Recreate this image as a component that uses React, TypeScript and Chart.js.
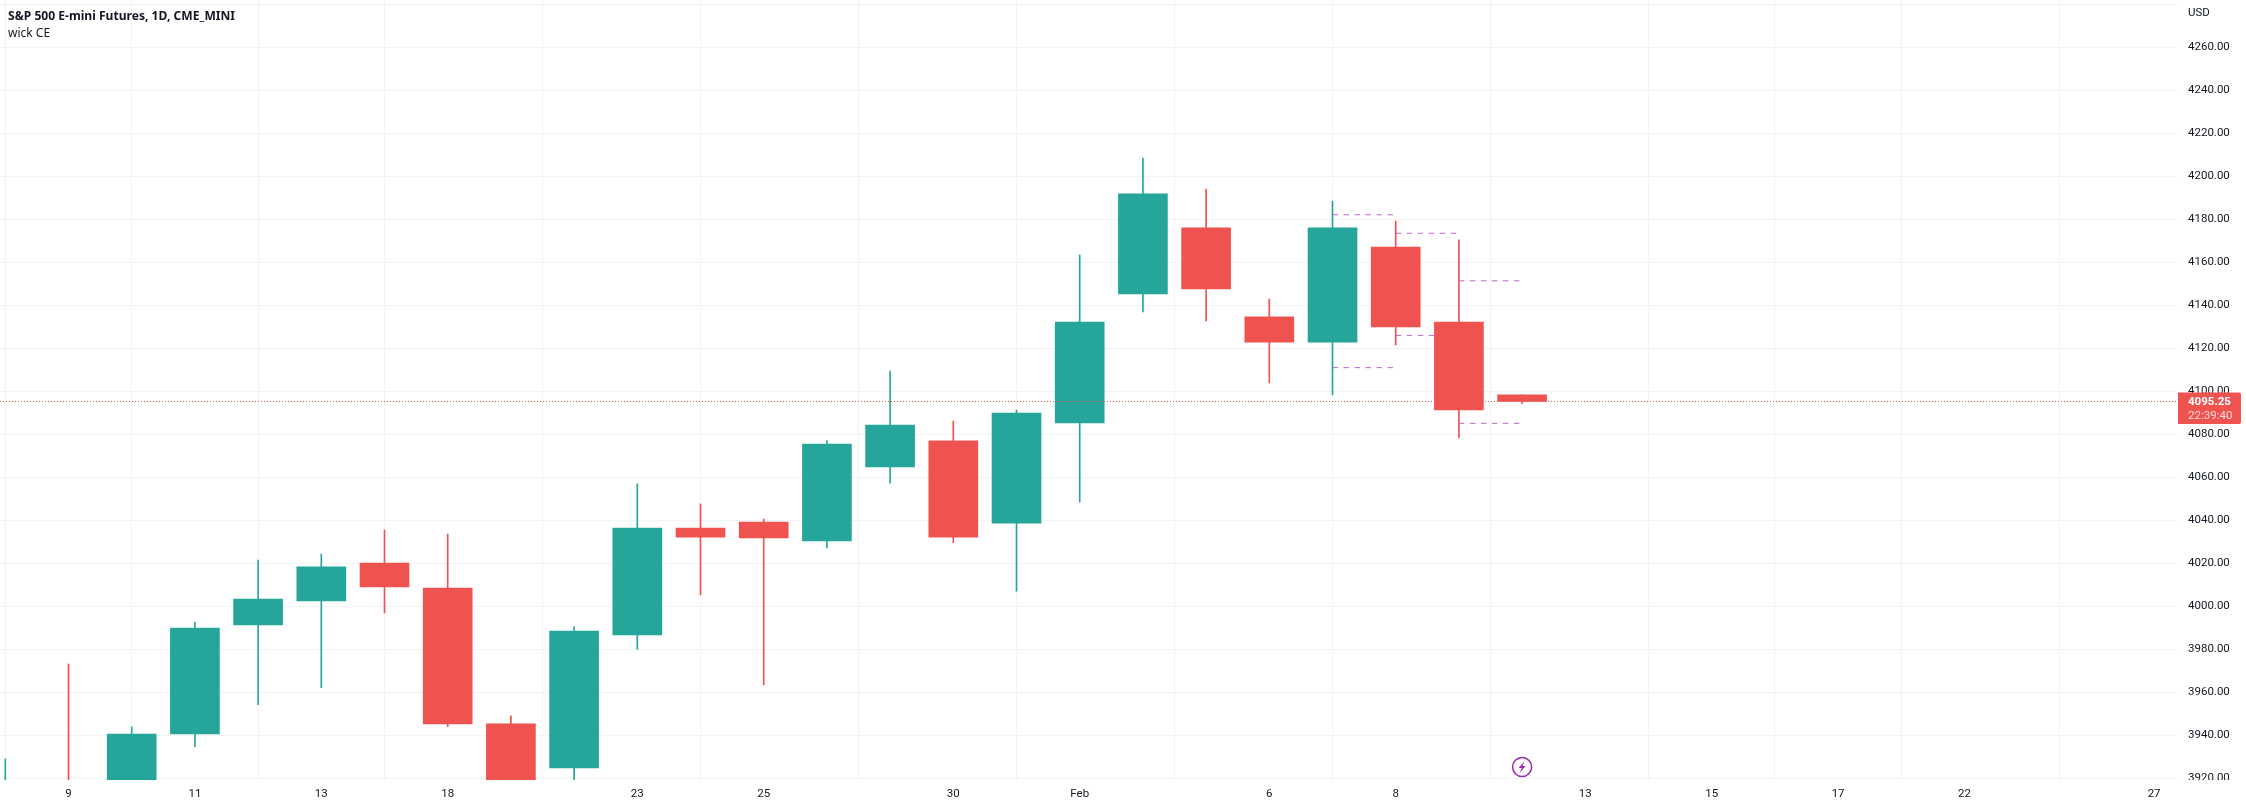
import React, { useEffect, useRef } from "react";
import { Chart, registerables } from "chart.js";

Chart.register(...registerables);

const sessions = [-1, 0, 1, 2, 3, 4, 5, 6, 7, 8, 9, 10, 11, 12, 13, 14, 15, 16, 17, 18, 19, 20, 21, 22, 23];
const opens = [3900, 3915, 3905, 3940.6, 3991.3, 4002.5, 4020.1, 4008.5, 3945.3, 3924.8, 3986.7, 4036.4, 4039.2, 4030.4, 4064.8, 4076.9, 4038.7, 4085.3, 4145.3, 4176, 4134.6, 4122.9, 4167.1, 4132.2, 4098.3];
const closes = [3915, 3900, 3940.6, 3989.9, 4003.4, 4018.3, 4009, 3945.3, 3915, 3988.5, 4036.4, 4032.2, 4031.8, 4075.5, 4084.3, 4032.2, 4089.9, 4132.2, 4191.8, 4147.6, 4122.9, 4176, 4129.9, 4091.3, 4095.25];
const highs = [3929, 3973.2, 3943.9, 3992.7, 4021.5, 4024.3, 4035.5, 4033.6, 3949, 3990.4, 4056.9, 4047.6, 4040.6, 4076.9, 4109.4, 4086.2, 4091.3, 4163.4, 4208.5, 4194.1, 4142.9, 4188.5, 4179.2, 4170.4, 4098.3];
const lows = [3895, 3895, 3900, 3934.7, 3954.2, 3962.1, 3996.9, 3944, 3905, 3918, 3980, 4005.3, 3963.4, 4027.1, 4057.3, 4029.5, 4007, 4048.5, 4136.9, 4132.7, 4103.9, 4098.3, 4121.5, 4078.3, 4094.2];

const ceStarts = [20, 20, 21, 21, 22, 22];
const ceValues = [4182.1, 4111, 4173.5, 4126, 4151.4, 4085.1];

const lastPrice = 4095.25;
const countdown = "22:39:40";

const xTickPositions = [0, 2, 4, 6, 9, 11, 14, 16, 19, 21, 24, 26, 28, 30, 33];
const xTickLabels = ["9", "11", "13", "18", "23", "25", "30", "Feb", "6", "8", "13", "15", "17", "22", "27"];
const yTickValues = [3920, 3940, 3960, 3980, 4000, 4020, 4040, 4060, 4080, 4100, 4120, 4140, 4160, 4180, 4200, 4220, 4240, 4260, 4280];

const xMin = -1.0839;
const xMax = 33.378;
const yMin = 3919.2;
const yMax = 4282;

const GREEN = "#26a69a";
const RED = "#ef5350";
const GRID = "#f2f3f5";
const INK = "#131722";
const AXIS_FONT = { family: "Roboto", size: 11.5 };

function candleSets(up: boolean) {
  const idx = sessions.map((_, i) => i).filter((i) => (closes[i] >= opens[i]) === up);
  const color = up ? GREEN : RED;
  return [
    {
      type: "bar",
      data: idx.map((i) => ({ x: sessions[i], y: [lows[i], highs[i]] })),
      backgroundColor: color,
      barThickness: 1,
      grouped: false,
      order: 3,
    },
    {
      type: "bar",
      data: idx.map((i) => ({ x: sessions[i], y: [opens[i], closes[i]] })),
      backgroundColor: color,
      barThickness: 49,
      grouped: false,
      order: 2,
    },
  ];
}

const overlayPlugin = {
  id: "overlay",
  afterDraw(chart: any) {
    const { ctx, chartArea, scales } = chart;
    ctx.save();
    // Labels under the time axis strip are hidden, as in the reference
    ctx.fillStyle = "#ffffff";
    ctx.fillRect(chartArea.right, chartArea.bottom, chart.width - chartArea.right, chart.height - chartArea.bottom);

    ctx.textBaseline = "middle";
    ctx.textAlign = "left";
    ctx.fillStyle = INK;
    ctx.font = "bold 12.1px 'Noto Sans'";
    ctx.fillText("S&P 500 E-mini Futures, 1D, CME_MINI", 8, 16.5);
    ctx.font = "12px 'Noto Sans'";
    ctx.fillText("wick CE", 8, 33.5);
    ctx.font = "11.5px Roboto";
    ctx.fillText("USD", 2188, 13.5);

    // Last price tag
    const py = scales.y.getPixelForValue(lastPrice);
    ctx.fillStyle = RED;
    ctx.beginPath();
    ctx.roundRect(chartArea.right, py - 9, 63, 31.5, [0, 2, 2, 0]);
    ctx.fill();
    ctx.fillStyle = "#ffffff";
    ctx.font = "bold 11.5px Roboto";
    ctx.fillText(lastPrice.toFixed(2), 2188, py + 1);
    ctx.fillStyle = "rgba(255,255,255,0.8)";
    ctx.font = "11.5px Roboto";
    ctx.fillText(countdown, 2188, py + 14.5);

    // Event marker
    const ex = scales.x.getPixelForValue(23);
    const ey = 767;
    ctx.strokeStyle = "#9c27b0";
    ctx.lineWidth = 1.5;
    ctx.beginPath();
    ctx.arc(ex, ey, 9.5, 0, Math.PI * 2);
    ctx.stroke();
    ctx.fillStyle = "#9c27b0";
    ctx.beginPath();
    ctx.moveTo(ex + 2.5, ey - 6);
    ctx.lineTo(ex - 3.5, ey + 1);
    ctx.lineTo(ex - 0.3, ey + 1);
    ctx.lineTo(ex - 2.5, ey + 6);
    ctx.lineTo(ex + 3.5, ey - 1);
    ctx.lineTo(ex + 0.3, ey - 1);
    ctx.closePath();
    ctx.fill();
    ctx.restore();
  },
};

function clearPadding(axis: any) {
  axis.paddingTop = 0;
  axis.paddingBottom = 0;
  axis.paddingLeft = 0;
  axis.paddingRight = 0;
}

export default function App() {
  const ref = useRef<HTMLCanvasElement | null>(null);

  useEffect(() => {
    document.body.style.margin = "0";
    const datasets: any[] = [
      ...candleSets(true),
      ...candleSets(false),
      ...ceValues.map((v, i) => ({
        type: "line",
        data: [
          { x: ceStarts[i], y: v },
          { x: ceStarts[i] + 1, y: v },
        ],
        borderColor: "#ba68c8",
        borderWidth: 1,
        borderDash: [5.5, 5.5],
        pointRadius: 0,
        order: 4,
      })),
      {
        type: "line",
        data: [
          { x: xMin, y: lastPrice },
          { x: xMax, y: lastPrice },
        ],
        borderColor: RED,
        borderWidth: 1,
        borderDash: [1, 2],
        pointRadius: 0,
        order: 1,
      },
    ];

    const chart = new Chart(ref.current as HTMLCanvasElement, {
      type: "bar",
      data: { datasets },
      options: {
        animation: false,
        responsive: false,
        devicePixelRatio: 1,
        layout: { padding: 0 },
        plugins: { legend: { display: false }, tooltip: { enabled: false }, title: { display: false } },
        scales: {
          x: {
            type: "linear",
            min: xMin,
            max: xMax,
            offset: false,
            grid: { color: GRID, drawTicks: false },
            border: { display: false },
            afterBuildTicks(axis: any) {
              axis.ticks = xTickPositions.map((value) => ({ value }));
            },
            afterFit(axis: any) {
              axis.height = 28;
              clearPadding(axis);
            },
            ticks: {
              autoSkip: false,
              maxRotation: 0,
              minRotation: 0,
              padding: 7,
              color: INK,
              font: AXIS_FONT,
              callback(value: any) {
                return xTickLabels[xTickPositions.indexOf(value)] ?? "";
              },
            },
          },
          y: {
            type: "linear",
            position: "right",
            min: yMin,
            max: yMax,
            grid: { color: GRID, drawTicks: false },
            border: { display: false },
            afterBuildTicks(axis: any) {
              axis.ticks = yTickValues.map((value) => ({ value }));
            },
            afterFit(axis: any) {
              axis.width = 68;
              clearPadding(axis);
            },
            ticks: {
              padding: 10,
              color: INK,
              font: AXIS_FONT,
              callback(value: any) {
                return value === 4280 ? "" : Number(value).toFixed(2);
              },
            },
          },
        },
      } as any,
      plugins: [overlayPlugin],
    } as any);

    return () => chart.destroy();
  }, []);

  return <canvas ref={ref} width={2246} height={808} style={{ display: "block", width: 2246, height: 808 }} />;
}
